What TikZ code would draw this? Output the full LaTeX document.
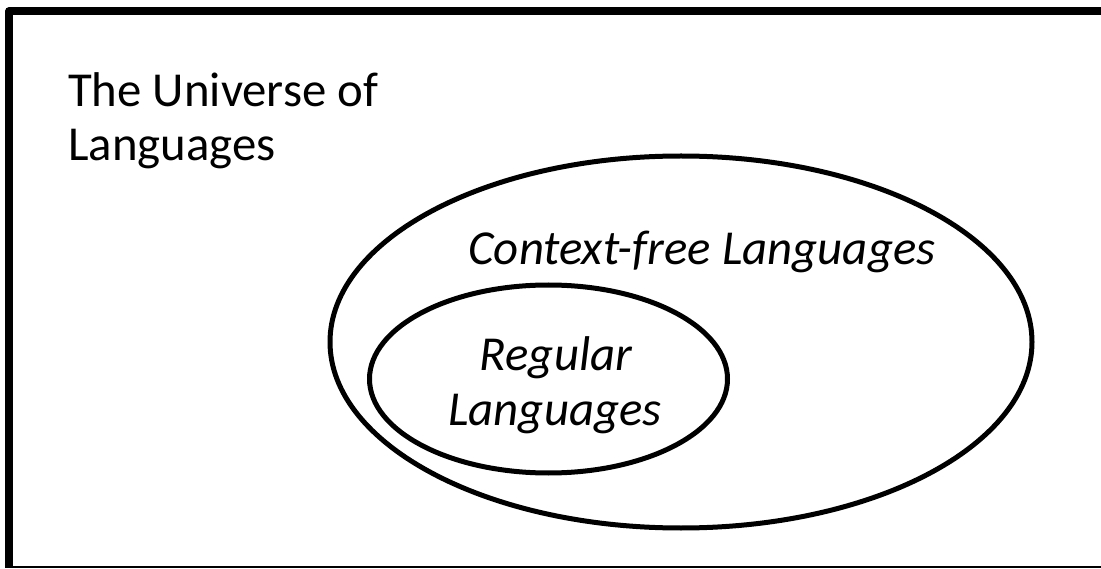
\documentclass[tikz,border=0pt]{standalone}
\usepackage{fontspec}
\setmainfont{Carlito}
\begin{document}
\begin{tikzpicture}[x=1pt,y=-1pt,
  label/.style={font=\fontsize{48.8}{54}\selectfont, inner sep=0pt, anchor=base},
  setline/.style={line width=5pt}]
\useasboundingbox (0,0) rectangle (1101,569);
% frame: heavy top and left edges, light bottom edge
\draw[line width=8pt, line join=round] (1110,11.2) -- (9.2,11.2) -- (9.2,566);
\draw[line width=2.2pt] (5,567) -- (1110,567);
% language classes
\draw[setline] (681,342) ellipse [x radius=351, y radius=186];
\draw[setline] (548.5,379) ellipse [x radius=179, y radius=94];
% labels
\node[label, anchor=base west] (univ1) at (68,107) {The Universe of};
\node[label, anchor=base west] (univ2) at (68,161) {Languages};
\node[label] (cfl) at (702,265) {\itshape Context-free Languages};
\node[label] (reg1) at (556,371) {\itshape Regular};
\node[label] (reg2) at (555,425) {\itshape Languages};
\end{tikzpicture}
\end{document}
